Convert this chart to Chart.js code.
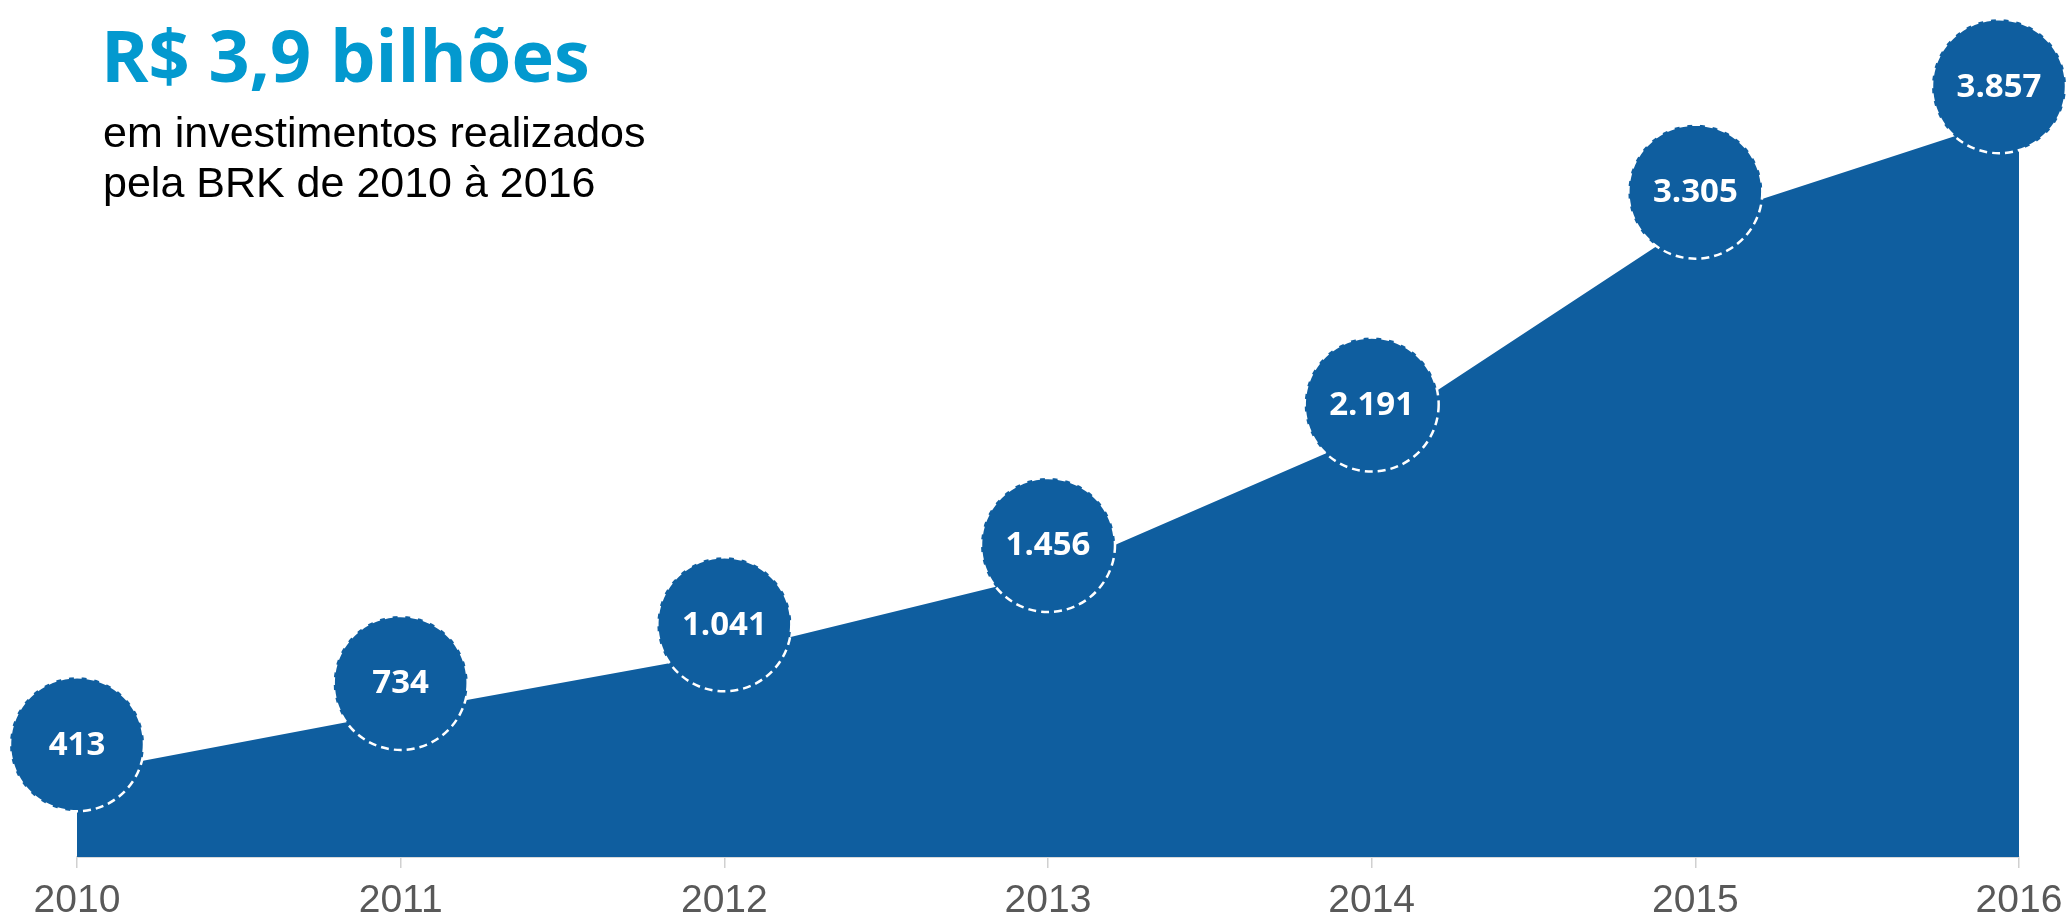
<!DOCTYPE html>
<html>
<head>
<meta charset="utf-8">
<script src="https://cdn.jsdelivr.net/npm/chart.js@4.4.1/dist/chart.umd.min.js"></script>
<style>
  html, body { margin: 0; padding: 0; background: #ffffff; }
  #wrap { position: relative; width: 2067px; height: 918px; }
  #chart { position: absolute; left: 0; top: 0; }
  #title { position: absolute; left: 101px; top: 18px; font-family: "Open Sans", sans-serif; font-weight: 700; font-size: 72px; line-height: 72px; color: #0399CF; white-space: nowrap; }
  #sub { position: absolute; left: 103px; top: 107px; font-family: "Liberation Sans", Arial, sans-serif; font-size: 43px; line-height: 50px; color: #000000; white-space: nowrap; }
</style>
</head>
<body>
<div id="wrap">
  <canvas id="chart" width="2067" height="918"></canvas>
  <div id="title">R$ 3,9 bilhões</div>
  <div id="sub">em investimentos realizados<br>pela BRK de 2010 à 2016</div>
</div>
<script>
const years = ['2010', '2011', '2012', '2013', '2014', '2015', '2016'];
const investimentos = [413, 734, 1041, 1456, 2191, 3305, 3857];

const AREA = '#0F5E9F';
const BUBBLE_R = 67;
const BUBBLE_LIFT = 29;

function fmtBR(v) {
  return String(v).replace(/\B(?=(\d{3})+(?!\d))/g, '.');
}

const bubbles = {
  id: 'bubbles',
  afterDatasetsDraw(chart) {
    const ctx = chart.ctx;
    const meta = chart.getDatasetMeta(0);
    const W = chart.width;
    ctx.save();
    meta.data.forEach((pt, i) => {
      let cx = Math.min(pt.x, W - BUBBLE_R - 1);
      cx = Math.max(cx, BUBBLE_R + 1);
      const cy = pt.y - BUBBLE_LIFT;
      ctx.beginPath();
      ctx.arc(cx, cy, BUBBLE_R, 0, Math.PI * 2);
      ctx.fillStyle = AREA;
      ctx.fill();
      ctx.setLineDash([8, 5]);
      ctx.lineWidth = 2.5;
      ctx.strokeStyle = '#ffffff';
      ctx.stroke();
      ctx.setLineDash([]);
      ctx.fillStyle = '#ffffff';
      ctx.font = '700 33px "Open Sans", sans-serif';
      ctx.textAlign = 'center';
      ctx.textBaseline = 'middle';
      ctx.fillText(fmtBR(investimentos[i]), cx, cy + 1);
    });
    ctx.restore();
  }
};

new Chart(document.getElementById('chart'), {
  type: 'line',
  data: {
    labels: years,
    datasets: [{
      data: investimentos,
      fill: 'start',
      backgroundColor: AREA,
      borderColor: AREA,
      borderWidth: 0,
      pointRadius: 0,
      tension: 0
    }]
  },
  options: {
    responsive: false,
    animation: false,
    devicePixelRatio: 1,
    layout: { padding: { left: 77, right: 48, top: 0, bottom: 0 } },
    plugins: { legend: { display: false }, tooltip: { enabled: false }, title: { display: false } },
    scales: {
      x: {
        offset: false,
        grid: { display: true, drawOnChartArea: false, drawTicks: true, tickLength: 11, color: '#d0d0d0', lineWidth: 1.5 },
        border: { display: true, color: '#d9d9d9', width: 2 },
        ticks: { color: '#595959', font: { family: '"Liberation Sans", Arial, sans-serif', size: 39, lineHeight: 1 }, padding: 14, maxRotation: 0, autoSkip: false },
        afterFit(scale) { scale.height = 61; scale.paddingLeft = 0; scale.paddingRight = 0; }
      },
      y: {
        display: false,
        min: -25,
        max: 4460
      }
    }
  },
  plugins: [bubbles]
});
</script>
</body>
</html>
